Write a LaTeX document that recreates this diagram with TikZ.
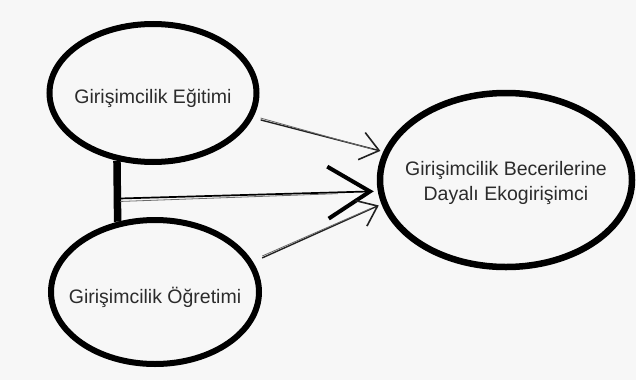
\documentclass[tikz,border=0pt]{standalone}
\usepackage{fontspec}
\setmainfont{Liberation Sans}
\usetikzlibrary{shapes.geometric,arrows.meta,calc}
\definecolor{bg}{HTML}{F7F7F7}
\definecolor{txt}{HTML}{2B2B2B}
\definecolor{arr}{HTML}{222222}
\definecolor{ghostc}{HTML}{6A6A6A}
\begin{document}
\begin{tikzpicture}[x=1pt,y=-1pt,
  oval/.style={ellipse,draw=black,line width=6pt,inner sep=0pt},
  lbl/.style={font=\fontsize{19.5}{25}\selectfont,text=txt,align=center,inner sep=0pt},
  conn/.style={draw=arr,line width=1.4pt,
    -{Straight Barb[length=18pt,width=28pt,line width=1.6pt]}},
  ghost/.style={draw=ghostc,line width=0.8pt},
  bigconn/.style={draw=black,line width=1.7pt,
    -{Straight Barb[length=42pt,width=52pt,line width=4pt]}},
  barline/.style={draw=black,line width=7.5pt}]
\fill[bg] (0,0) rectangle (636,380);
\useasboundingbox (0,0) rectangle (636,380);

\node[oval,minimum width=207pt,minimum height=138pt] (e) at (153,93) {};
\node[oval,minimum width=208pt,minimum height=144pt] (d) at (155,292) {};
\node[oval,line width=6.5pt,minimum width=252pt,minimum height=174pt] (b) at (506,180) {};

\node[lbl] (et) at ($(e.center)+(0,5)$) {Girişimcilik Eğitimi};
\node[lbl] (dt) at ($(d.center)+(0,5)$) {Girişimcilik Öğretimi};
\node[lbl] (bt2) at ($(b.center)+(0,3)$) {Girişimcilik Becerilerine\\Dayalı Ekogirişimci};

% bar between the two left ovals
\coordinate (bt) at (e.242);
\coordinate (bb) at (d.118);
\draw[barline] (bt) -- (bb);
\coordinate (bm) at ($(bt)!0.62!(bb)$);

% arrows
\draw[conn,shorten <=8pt,shorten >=3pt] (e.-14) -- (b.167);
\draw[ghost,shorten <=8pt,shorten >=12pt] ($(e.-14)+(0,-2)$) -- ($(b.167)+(0,0.5)$);

\draw[bigconn,shorten <=3pt,shorten >=4pt] (bm) -- (b.185);
\draw[ghost,shorten <=3pt,shorten >=40pt] ($(bm)+(0,3)$) -- ($(b.185)+(0,1)$);

\draw[conn,shorten <=10pt,shorten >=3pt] (d.17) -- (b.191);
\draw[ghost,shorten <=10pt,shorten >=12pt] ($(d.17)+(0,-2)$) -- ($(b.191)+(0,-0.5)$);
\end{tikzpicture}
\end{document}
